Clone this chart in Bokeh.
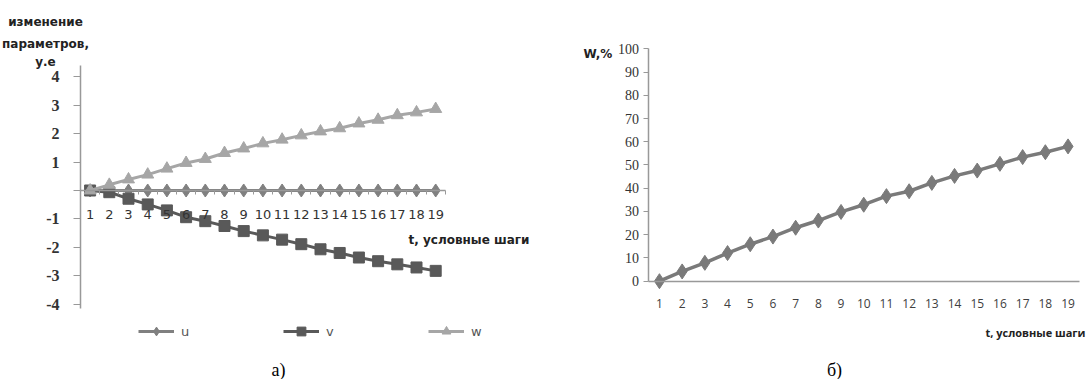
from bokeh.plotting import figure
from bokeh.models import Range1d, FixedTicker, Label, Legend, LegendItem
from bokeh.layouts import row
from bokeh.embed import file_html
from bokeh.resources import INLINE

# ---- data ----
steps = list(range(1, 20))
u = [0] * 19
v = [0, -0.06, -0.29, -0.49, -0.70, -0.94, -1.08, -1.25, -1.43, -1.58,
     -1.73, -1.89, -2.07, -2.20, -2.36, -2.49, -2.60, -2.71, -2.83]
w = [0, 0.20, 0.39, 0.56, 0.77, 0.97, 1.11, 1.32, 1.48, 1.66,
     1.79, 1.94, 2.08, 2.19, 2.36, 2.49, 2.65, 2.75, 2.87]
W_pct = [0, 4.2, 7.9, 12.1, 15.9, 19.2, 23.0, 26.1, 29.8, 32.9,
         36.6, 38.7, 42.3, 45.3, 47.6, 50.5, 53.4, 55.5, 58.0]
left_y_ticks = [-4, -3, -2, -1, 0, 1, 2, 3, 4]
right_y_ticks = [0, 10, 20, 30, 40, 50, 60, 70, 80, 90, 100]

H = 379

def add_text(p, px, py, text, font="DejaVu Sans", size="11px", style="normal",
             color="#222222", align="left"):
    # frame fills the whole canvas, so screen units = canvas pixels (y from bottom)
    p.add_layout(Label(x=px, y=H - py, x_units="screen", y_units="screen",
                       text=text, text_font=font, text_font_size=size,
                       text_font_style=style, text_color=color, text_align=align,
                       text_baseline="middle"))

def base_fig(width, xr, yr):
    p = figure(width=width, height=H, output_backend="svg", toolbar_location=None,
               x_range=Range1d(*xr), y_range=Range1d(*yr), min_border=0)
    p.outline_line_color = None
    p.grid.grid_line_color = None
    p.background_fill_color = "white"
    return p

# ---- left chart (а) ----
p1 = base_fig(560, (-3.667, 25.5), (-6.655, 6.690))

p1.xaxis.fixed_location = 0
p1.xaxis.bounds = (0.5, 19.5)
p1.xaxis.ticker = FixedTicker(ticks=steps, minor_ticks=[s - 0.5 for s in steps] + [19.5])
p1.xaxis.major_tick_line_color = None
p1.xaxis.minor_tick_out = 4
p1.xaxis.minor_tick_in = 0
p1.xaxis.minor_tick_line_color = "#999999"
p1.xaxis.axis_line_color = "#999999"
p1.xaxis.axis_line_width = 1.5
p1.xaxis.major_label_standoff = 14
p1.xaxis.major_label_text_font = "DejaVu Sans"
p1.xaxis.major_label_text_font_size = "13px"
p1.xaxis.major_label_text_color = "#333333"

p1.yaxis.fixed_location = 0.5
p1.yaxis.bounds = (-4.156, 4.40)
p1.yaxis.ticker = FixedTicker(ticks=left_y_ticks)
p1.yaxis.major_label_overrides = {t: ("" if t == 0 else str(t)) for t in left_y_ticks}
p1.yaxis.axis_line_color = "#999999"
p1.yaxis.axis_line_width = 1.5
p1.yaxis.major_tick_line_color = "#999999"
p1.yaxis.major_tick_out = 7
p1.yaxis.major_tick_in = 0
p1.yaxis.minor_tick_line_color = None
p1.yaxis.major_label_standoff = 14
p1.yaxis.major_label_text_font = "Liberation Serif"
p1.yaxis.major_label_text_font_style = "bold"
p1.yaxis.major_label_text_font_size = "16px"
p1.yaxis.major_label_text_color = "#333333"

cu, cv, cw = "#808080", "#595959", "#a6a6a6"
lu = p1.line(steps, u, line_color=cu, line_width=3)
su = p1.scatter(steps, u, marker="diamond", size=13, fill_color=cu, line_color=cu)
lv = p1.line(steps, v, line_color=cv, line_width=3)
sv = p1.scatter(steps, v, marker="square", size=11, fill_color=cv, line_color=cv)
lw = p1.line(steps, w, line_color=cw, line_width=3)
sw = p1.scatter(steps, w, marker="triangle", size=12, fill_color=cw, line_color=cw)

legend = Legend(items=[LegendItem(label="u", renderers=[lu, su]),
                       LegendItem(label="v", renderers=[lv, sv]),
                       LegendItem(label="w", renderers=[lw, sw])],
                orientation="horizontal", location=(138, H - 342), spacing=82,
                glyph_width=36, glyph_height=22, label_standoff=7, padding=0, margin=0,
                border_line_color=None, background_fill_alpha=0,
                label_text_font="DejaVu Sans", label_text_font_size="13px",
                label_text_color="#555555")
p1.add_layout(legend)

add_text(p1, 45, 21, "изменение", style="bold", size="12px", align="center")
add_text(p1, 45, 43, "параметров,", style="bold", size="12px", align="center")
add_text(p1, 45, 61, "у.е", style="bold", size="12px", align="center")
add_text(p1, 408, 239, "t, условные  шаги", style="bold", size="12px")
add_text(p1, 278, 369, "а)", font="Liberation Serif", size="18px", color="#000000",
         align="center")

# ---- right chart (б) ----
p2 = base_fig(526, (-3.359, 19.813), (-42.30, 120.78))

p2.xaxis.fixed_location = 0
p2.xaxis.bounds = (0.5, 19.5)
p2.xaxis.ticker = FixedTicker(ticks=steps)
p2.xaxis.major_tick_line_color = None
p2.xaxis.minor_tick_line_color = None
p2.xaxis.axis_line_color = "#999999"
p2.xaxis.axis_line_width = 1.5
p2.xaxis.major_label_standoff = 12
p2.xaxis.major_label_text_font = "Open Sans"
p2.xaxis.major_label_text_font_size = "12px"
p2.xaxis.major_label_text_color = "#404040"

p2.yaxis.fixed_location = 0.5
p2.yaxis.bounds = (0, 100)
p2.yaxis.ticker = FixedTicker(ticks=right_y_ticks)
p2.yaxis.axis_line_color = "#999999"
p2.yaxis.axis_line_width = 1.5
p2.yaxis.major_tick_line_color = "#999999"
p2.yaxis.major_tick_out = 5
p2.yaxis.major_tick_in = 0
p2.yaxis.minor_tick_line_color = None
p2.yaxis.major_label_standoff = 4
p2.yaxis.major_label_text_font = "Liberation Serif"
p2.yaxis.major_label_text_font_size = "14px"
p2.yaxis.major_label_text_color = "#333333"

cW = "#7a7a7a"
p2.line(steps, W_pct, line_color=cW, line_width=3.5)
p2.scatter(steps, W_pct, marker="diamond", size=15, fill_color=cW, line_color=cW)

add_text(p2, 23, 53, "W,%", style="bold", size="12px")
add_text(p2, 525, 332, "t, условные шаги", font="Open Sans", style="bold",
         size="11px", align="right")
add_text(p2, 274, 369, "б)", font="Liberation Serif", size="18px", color="#000000",
         align="center")

layout = row(p1, p2)
open("out.html", "w").write(file_html(layout, INLINE))
